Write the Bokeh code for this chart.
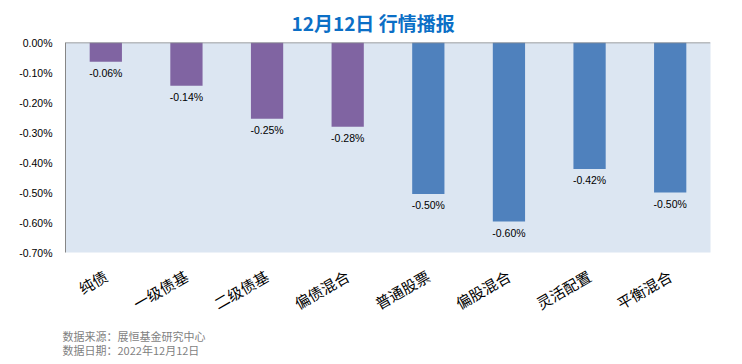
from bokeh.plotting import figure
from bokeh.models import Range1d, FixedTicker, Span, Title, ColumnDataSource
from bokeh.core.properties import value
from bokeh.embed import file_html
from bokeh.resources import INLINE

categories = ["纯债", "一级债基", "二级债基", "偏债混合", "普通股票", "偏股混合", "灵活配置", "平衡混合"]
returns = [-0.064, -0.144, -0.254, -0.281, -0.505, -0.597, -0.422, -0.500]
label_texts = ["-0.06%", "-0.14%", "-0.25%", "-0.28%", "-0.50%", "-0.60%", "-0.42%", "-0.50%"]
bar_colors = ["#8064A2", "#8064A2", "#8064A2", "#8064A2", "#4F81BD", "#4F81BD", "#4F81BD", "#4F81BD"]
tick_values = [0.0, -0.1, -0.2, -0.3, -0.4, -0.5, -0.6, -0.7]
tick_labels = ["0.00%", "-0.10%", "-0.20%", "-0.30%", "-0.40%", "-0.50%", "-0.60%", "-0.70%"]
title_text = "12月12日 行情播报"
source_text = "数据来源：展恒基金研究中心"
date_text = "数据日期：2022年12月12日"

src = ColumnDataSource(dict(cat=categories, val=returns, lab=label_texts, col=bar_colors))

p = figure(width=742, height=364, x_range=categories, y_range=Range1d(-0.70, 0.0),
           output_backend="svg", toolbar_location=None, title=None,
           min_border_left=65, min_border_right=32, min_border_top=42, min_border_bottom=110)
p.background_fill_color = "#DCE6F2"
p.border_fill_color = "white"
p.outline_line_color = None
p.xgrid.grid_line_color = None
p.ygrid.grid_line_color = None

p.vbar(x="cat", top=0, bottom="val", width=0.4, color="col", line_color=None, source=src)
p.text(x="cat", y="val", text="lab", source=src, text_align="center", text_baseline="top",
       y_offset=5, text_font=value("Liberation Sans"), text_font_size="10.5px", text_color="black")

p.add_layout(Span(location=0, dimension="width", line_color="#868686", line_width=1.5))

p.yaxis.ticker = FixedTicker(ticks=tick_values)
p.yaxis.major_label_overrides = {v: t for v, t in zip(tick_values, tick_labels)}
p.yaxis.axis_line_color = "#868686"
p.yaxis.major_tick_line_color = None
p.yaxis.minor_tick_line_color = None
p.yaxis.major_label_standoff = 7
p.yaxis.major_label_text_font = "Liberation Sans"
p.yaxis.major_label_text_font_size = "10.5px"
p.yaxis.major_label_text_color = "black"

p.xaxis.axis_line_color = None
p.xaxis.major_tick_line_color = None
p.xaxis.minor_tick_line_color = None
p.xaxis.major_label_orientation = 0.52
p.xaxis.major_label_standoff = 16
p.xaxis.major_label_text_font = "Noto Sans CJK SC"
p.xaxis.major_label_text_font_size = "15px"
p.xaxis.major_label_text_color = "black"

top_title = Title(text=title_text, align="left", offset=226, standoff=13,
                  text_font="Noto Sans CJK SC", text_font_size="19px",
                  text_font_style="bold", text_color="#0B6FC6")
p.add_layout(top_title, "above")
footer = Title(text=source_text + "\n" + date_text, align="left", offset=-3, standoff=2,
               text_font="Noto Sans CJK SC", text_font_size="11px", text_line_height=0.9,
               text_font_style="normal", text_color="#7F7F7F")
p.add_layout(footer, "below")
spacer = Title(text=" ", align="left", standoff=0, text_font_size="3px")
p.add_layout(spacer, "below")

open("out.html", "w").write(file_html(p, INLINE))
